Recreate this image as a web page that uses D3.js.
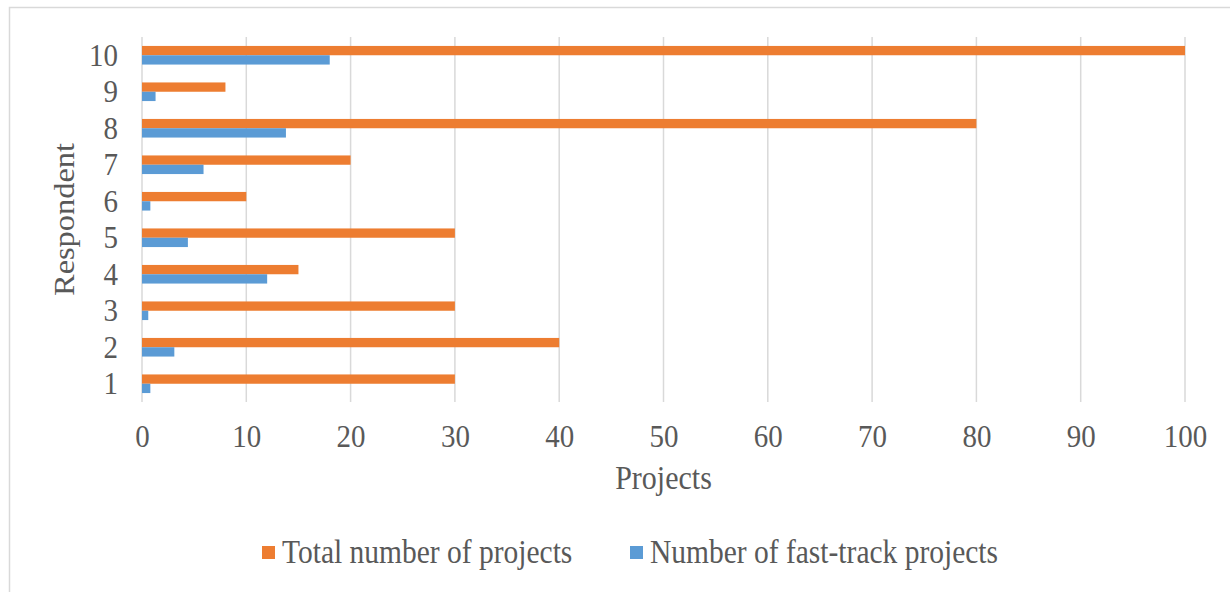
<!DOCTYPE html>
<html>
<head>
<meta charset="utf-8">
<script src="https://cdn.jsdelivr.net/npm/d3@7/dist/d3.min.js"></script>
<style>
  html, body { margin: 0; padding: 0; background: #fff; }
  svg { display: block; }
  text { font-family: "Liberation Serif", "Times New Roman", serif; fill: #595959; }
</style>
</head>
<body>
<svg id="chart" width="1230" height="592"></svg>
<script>
// Respondents, listed bottom to top
const respondents = ["1", "2", "3", "4", "5", "6", "7", "8", "9", "10"];
// Total number of projects per respondent
const totalProjects = [30, 40, 30, 15, 30, 10, 20, 80, 8, 100];
// Number of fast-track projects per respondent
const fastTrackProjects = [0.8, 3.1, 0.6, 12, 4.4, 0.8, 5.9, 13.8, 1.3, 18];
const seriesNames = ["Total number of projects", "Number of fast-track projects"];
const seriesColors = ["#ED7D31", "#5B9BD5"];
const xTicks = [0, 10, 20, 30, 40, 50, 60, 70, 80, 90, 100];

const svg = d3.select("#chart");
const plot = { left: 142, right: 1185, top: 37, bottom: 402 };
const stretch = 1.12;          // tall, narrow lettering
const fontFamily = "'Liberation Serif', 'Times New Roman', serif";

// Chart frame
svg.append("rect")
  .attr("x", 9.5).attr("y", 7.5)
  .attr("width", 1240).attr("height", 600)
  .attr("fill", "none").attr("stroke", "#d9d9d9").attr("stroke-width", 1.5);

const x = d3.scaleLinear().domain([0, 100]).range([plot.left, plot.right]);
const y = d3.scaleBand().domain(respondents)
  .range([plot.bottom, plot.top])
  .paddingInner(0.49).paddingOuter(0.245);
const inner = d3.scaleBand().domain([0, 1]).range([0, y.bandwidth()]);

// Vertical gridlines
svg.append("g")
  .selectAll("line")
  .data(xTicks)
  .join("line")
  .attr("x1", d => x(d)).attr("x2", d => x(d))
  .attr("y1", plot.top).attr("y2", plot.bottom)
  .attr("stroke", "#d9d9d9").attr("stroke-width", 1.5);

// Bars
const rows = respondents.map((r, i) => ({ r, vals: [totalProjects[i], fastTrackProjects[i]] }));
const groups = svg.append("g")
  .selectAll("g")
  .data(rows)
  .join("g")
  .attr("transform", d => `translate(0,${y(d.r)})`);
groups.selectAll("rect")
  .data(d => d.vals.map((v, k) => ({ v, k })))
  .join("rect")
  .attr("x", x(0))
  .attr("y", d => inner(d.k))
  .attr("width", d => x(d.v) - x(0))
  .attr("height", inner.bandwidth())
  .attr("fill", d => seriesColors[d.k]);

// Stretch axis tick labels vertically around their tick origin
function styleTicks(sel) {
  sel.selectAll("text").each(function () {
    const t = d3.select(this);
    const yy = +t.attr("y") || 0;
    t.attr("y", yy / stretch)
      .attr("transform", `scale(1,${stretch})`)
      .style("font-size", "29px")
      .style("font-family", fontFamily)
      .attr("fill", "#595959");
  });
}

// X axis labels
const xAxis = svg.append("g")
  .attr("transform", `translate(0,${plot.bottom})`)
  .call(d3.axisBottom(x).tickValues(xTicks).tickSize(0).tickPadding(22));
xAxis.select(".domain").remove();
styleTicks(xAxis);

// Y axis labels
const yAxis = svg.append("g")
  .attr("transform", `translate(${plot.left},0)`)
  .call(d3.axisLeft(y).tickSize(0).tickPadding(24));
yAxis.select(".domain").remove();
styleTicks(yAxis);

// Axis titles
svg.append("text")
  .attr("transform", `translate(${(plot.left + plot.right) / 2},489) scale(1,${stretch})`)
  .attr("text-anchor", "middle")
  .style("font-size", "30px")
  .text("Projects");
svg.append("text")
  .attr("transform", `translate(74,${(plot.top + plot.bottom) / 2}) scale(1,1.08) rotate(-90)`)
  .attr("text-anchor", "middle")
  .style("font-size", "30px")
  .text("Respondent");

// Legend
const legendItems = [
  { name: seriesNames[0], color: seriesColors[0], sx: 262 },
  { name: seriesNames[1], color: seriesColors[1], sx: 630 }
];
const lg = svg.append("g")
  .selectAll("g")
  .data(legendItems)
  .join("g")
  .attr("transform", d => `translate(${d.sx},546)`);
lg.append("rect")
  .attr("width", 13).attr("height", 13)
  .attr("fill", d => d.color);
lg.append("text")
  .attr("transform", `translate(20,17) scale(1,${stretch})`)
  .style("font-size", "29.5px")
  .text(d => d.name);
</script>
</body>
</html>
